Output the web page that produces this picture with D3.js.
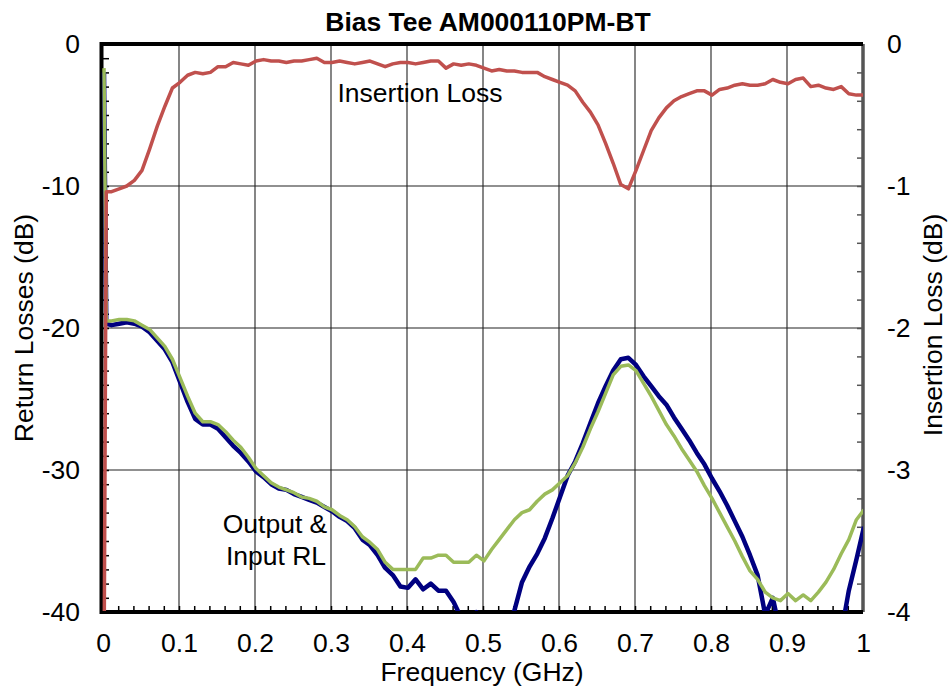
<!DOCTYPE html>
<html>
<head>
<meta charset="utf-8">
<script src="https://cdn.jsdelivr.net/npm/d3@7"></script>
<style>
  body { margin: 0; background: #fff; }
  svg { font-family: "Liberation Sans", Arial, sans-serif; }
</style>
</head>
<body>
<div id="chart"></div>
<script>
// frequency points (GHz)
var freq = [0, 0.003, 0.01, 0.02, 0.03, 0.04, 0.05, 0.06, 0.07, 0.08, 0.09,
  0.10, 0.11, 0.12, 0.13, 0.14, 0.15, 0.16, 0.17, 0.18, 0.19,
  0.20, 0.21, 0.22, 0.23, 0.24, 0.25, 0.26, 0.27, 0.28, 0.29,
  0.30, 0.31, 0.32, 0.33, 0.34, 0.35, 0.36, 0.37, 0.38, 0.39,
  0.40, 0.41, 0.42, 0.43, 0.44, 0.45, 0.46, 0.47, 0.48, 0.49,
  0.50, 0.51, 0.52, 0.53, 0.54, 0.55, 0.56, 0.57, 0.58, 0.59,
  0.60, 0.61, 0.62, 0.63, 0.64, 0.65, 0.66, 0.67, 0.68, 0.69,
  0.70, 0.71, 0.72, 0.73, 0.74, 0.75, 0.76, 0.77, 0.78, 0.79,
  0.80, 0.81, 0.82, 0.83, 0.84, 0.85, 0.86, 0.87, 0.88, 0.89,
  0.90, 0.91, 0.92, 0.93, 0.94, 0.95, 0.96, 0.97, 0.98, 0.99, 1.00];

// insertion loss (dB, right axis)
var insertionLoss = [-4.5, -1.04, -1.04, -1.02, -1.00, -0.96, -0.89, -0.74, -0.58, -0.44, -0.31,
  -0.27, -0.22, -0.20, -0.21, -0.20, -0.16, -0.16, -0.13, -0.14, -0.15,
  -0.12, -0.11, -0.12, -0.12, -0.13, -0.12, -0.12, -0.11, -0.10, -0.13,
  -0.13, -0.12, -0.13, -0.14, -0.13, -0.12, -0.14, -0.16, -0.14, -0.13,
  -0.13, -0.14, -0.13, -0.12, -0.12, -0.17, -0.14, -0.15, -0.14, -0.15,
  -0.17, -0.19, -0.18, -0.19, -0.19, -0.20, -0.20, -0.20, -0.23, -0.25,
  -0.27, -0.29, -0.33, -0.41, -0.48, -0.57, -0.70, -0.84, -0.99, -1.02,
  -0.89, -0.75, -0.61, -0.52, -0.45, -0.40, -0.37, -0.35, -0.33, -0.33,
  -0.36, -0.32, -0.31, -0.29, -0.28, -0.29, -0.29, -0.28, -0.25, -0.27,
  -0.28, -0.25, -0.24, -0.30, -0.29, -0.31, -0.32, -0.30, -0.35, -0.36, -0.36];

// output return loss (dB, left axis)
var outputRL = [-2.0, -19.7, -19.8, -19.7, -19.6, -19.7, -19.9, -20.3, -20.9, -21.5, -22.4,
  -23.8, -25.2, -26.4, -26.8, -26.8, -27.1, -27.7, -28.3, -28.8, -29.4,
  -30.1, -30.5, -31.0, -31.3, -31.4, -31.7, -31.9, -32.1, -32.3, -32.6,
  -32.9, -33.3, -33.6, -34.1, -34.9, -35.3, -36.0, -36.9, -37.4, -38.2,
  -38.3, -37.7, -38.4, -38.0, -38.5, -38.5, -39.3, -40.4, -41.0, -40.0,
  -41.5, -42.0, -41.5, -40.8, -39.9, -37.9, -36.8, -35.9, -34.8, -33.4,
  -31.9, -30.4, -29.4, -28.1, -26.7, -25.3, -24.1, -23.0, -22.2, -22.1,
  -22.6, -23.4, -24.1, -24.8, -25.4, -26.3, -27.1, -27.9, -28.8, -29.6,
  -30.6, -31.5, -32.5, -33.6, -34.7, -36.0, -37.4, -40.2, -39.0, -41.5,
  -42.0, -42.0, -42.0, -42.0, -42.0, -42.0, -42.0, -41.5, -38.5, -36.3, -34.0];

// input return loss (dB, left axis)
var inputRL = [-1.7, -19.5, -19.5, -19.4, -19.4, -19.5, -19.8, -20.1, -20.7, -21.3, -22.2,
  -23.5, -24.8, -26.0, -26.6, -26.6, -26.8, -27.3, -27.9, -28.4, -29.1,
  -29.9, -30.4, -30.9, -31.2, -31.4, -31.6, -31.9, -32.0, -32.2, -32.6,
  -32.8, -33.2, -33.5, -34.0, -34.7, -35.1, -35.6, -36.5, -37.0, -37.0,
  -37.0, -37.0, -36.2, -36.2, -36.0, -36.0, -36.5, -36.5, -36.5, -36.0,
  -36.4, -35.6, -34.9, -34.2, -33.5, -33.0, -32.8, -32.2, -31.7, -31.4,
  -30.9, -30.4, -29.5, -28.4, -27.1, -25.9, -24.6, -23.3, -22.7, -22.6,
  -23.0, -23.9, -24.8, -25.8, -26.8, -27.6, -28.5, -29.3, -30.1, -31.1,
  -32.0, -33.0, -34.0, -35.0, -36.1, -37.1, -37.7, -38.6, -39.0, -39.2,
  -38.7, -39.2, -38.8, -39.2, -38.6, -37.9, -37.0, -35.9, -34.9, -33.5, -32.8];

var xTicks = [0, 0.1, 0.2, 0.3, 0.4, 0.5, 0.6, 0.7, 0.8, 0.9, 1];
var rlTicks = [0, -10, -20, -30, -40];
var ilTicks = [0, -1, -2, -3, -4];

var width = 952, height = 690;
var plotLeft = 103, plotRight = 863, plotTop = 44, plotBottom = 612;
var fontSize = 26.5;

var svg = d3.select("#chart").append("svg")
    .attr("width", width)
    .attr("height", height);

var x = d3.scaleLinear().domain([0, 1]).range([plotLeft, plotRight]);
var yL = d3.scaleLinear().domain([-40, 0]).range([plotBottom, plotTop]);
var yR = d3.scaleLinear().domain([-4, 0]).range([plotBottom, plotTop]);

// grid
svg.append("g").selectAll("line")
    .data(xTicks.slice(1, -1))
    .enter().append("line")
    .attr("x1", d => x(d)).attr("x2", d => x(d))
    .attr("y1", plotTop).attr("y2", plotBottom)
    .attr("stroke", "#444").attr("stroke-width", 1.3);
svg.append("g").selectAll("line")
    .data(rlTicks.slice(1, -1))
    .enter().append("line")
    .attr("x1", plotLeft).attr("x2", plotRight)
    .attr("y1", d => yL(d)).attr("y2", d => yL(d))
    .attr("stroke", "#222").attr("stroke-width", 1.2);

// minor ticks, inward
var minorAxis = function(g) { g.select(".domain").remove(); g.selectAll("text").remove(); };
svg.append("g")
    .attr("transform", "translate(" + plotLeft + ",0)")
    .call(d3.axisRight(yL).tickValues(d3.range(-39, 0, 1)).tickSize(6))
    .call(minorAxis)
    .selectAll("line").attr("stroke", "#000").attr("stroke-width", 1.5);
svg.append("g")
    .attr("transform", "translate(" + plotRight + ",0)")
    .call(d3.axisLeft(yR).tickValues(d3.range(-3.8, 0, 0.2)).tickSize(6))
    .call(minorAxis)
    .selectAll("line").attr("stroke", "#555").attr("stroke-width", 1.5);
svg.append("g")
    .attr("transform", "translate(0," + plotBottom + ")")
    .call(d3.axisTop(x).tickValues(d3.range(0.02, 1, 0.02)).tickSize(6))
    .call(minorAxis)
    .selectAll("line").attr("stroke", "#000").attr("stroke-width", 1.5);

// frame (under the series)
svg.append("line").attr("x1", plotRight).attr("x2", plotRight).attr("y1", plotTop).attr("y2", plotBottom)
    .attr("stroke", "#555").attr("stroke-width", 3.5);
svg.append("path")
    .attr("d", "M" + plotRight + "," + plotTop + "H" + (plotLeft - 1.5) + "V" + plotBottom + "H" + plotRight)
    .attr("fill", "none").attr("stroke", "#000").attr("stroke-width", 4);

// series
svg.append("clipPath").attr("id", "plotClip")
    .append("rect")
    .attr("x", plotLeft - 3).attr("y", plotTop)
    .attr("width", plotRight - plotLeft + 3).attr("height", plotBottom - plotTop - 1);

var plot = svg.append("g").attr("clip-path", "url(#plotClip)");

var lineL = d3.line().x((d, i) => x(freq[i]) + 1).y(d => yL(d));
var lineR = d3.line().x((d, i) => x(freq[i]) + 1).y(d => yR(d));

plot.append("path").datum(outputRL)
    .attr("d", lineL)
    .attr("fill", "none").attr("stroke", "#000080").attr("stroke-width", 4.5)
    .attr("stroke-linejoin", "round");
plot.append("path").datum(inputRL)
    .attr("d", lineL)
    .attr("fill", "none").attr("stroke", "#9BBB59").attr("stroke-width", 3.5)
    .attr("stroke-linejoin", "round");
plot.append("path").datum(insertionLoss)
    .attr("d", lineR)
    .attr("fill", "none").attr("stroke", "#C0504D").attr("stroke-width", 3.5)
    .attr("stroke-linejoin", "round");

// tick labels
var labelAxis = function(g) {
  g.select(".domain").remove();
  g.selectAll("line").remove();
  g.selectAll("text").attr("font-size", fontSize).attr("font-family", "Liberation Sans, Arial, sans-serif").attr("fill", "#000");
};
svg.append("g")
    .attr("transform", "translate(" + plotLeft + ",0)")
    .call(d3.axisLeft(yL).tickValues(rlTicks).tickSize(0).tickPadding(23).tickFormat(d => String(d)))
    .call(labelAxis);
svg.append("g")
    .attr("transform", "translate(" + plotRight + ",0)")
    .call(d3.axisRight(yR).tickValues(ilTicks).tickSize(0).tickPadding(24).tickFormat(d => String(d)))
    .call(labelAxis);
svg.append("g")
    .attr("transform", "translate(0," + plotBottom + ")")
    .call(d3.axisBottom(x).tickValues(xTicks).tickSize(0).tickPadding(21).tickFormat(d => d === 0 || d === 1 ? String(d) : d.toFixed(1)))
    .call(labelAxis);

// titles
svg.append("text")
    .attr("x", 488).attr("y", 31)
    .attr("text-anchor", "middle")
    .attr("font-size", fontSize).attr("font-weight", "bold")
    .text("Bias Tee AM000110PM-BT");
svg.append("text")
    .attr("x", 482).attr("y", 681)
    .attr("text-anchor", "middle")
    .attr("font-size", fontSize)
    .text("Frequency (GHz)");
svg.append("text")
    .attr("transform", "translate(33,328) rotate(-90)")
    .attr("text-anchor", "middle")
    .attr("font-size", fontSize)
    .text("Return Losses (dB)");
svg.append("text")
    .attr("transform", "translate(942,325) rotate(-90)")
    .attr("text-anchor", "middle")
    .attr("font-size", fontSize)
    .text("Insertion Loss (dB)");

// annotations
svg.append("text")
    .attr("x", 420).attr("y", 102)
    .attr("text-anchor", "middle")
    .attr("font-size", fontSize)
    .text("Insertion Loss");
svg.append("text")
    .attr("x", 275).attr("y", 533)
    .attr("text-anchor", "middle")
    .attr("font-size", fontSize)
    .text("Output &");
svg.append("text")
    .attr("x", 276).attr("y", 565)
    .attr("text-anchor", "middle")
    .attr("font-size", fontSize)
    .text("Input RL");
</script>
</body>
</html>
